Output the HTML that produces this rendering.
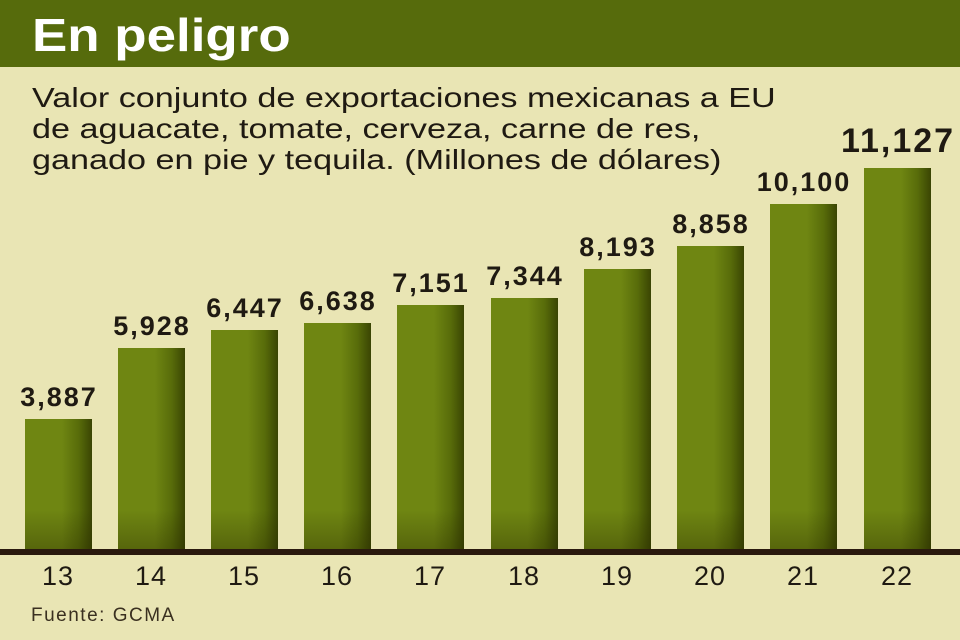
<!DOCTYPE html>
<html><head><meta charset="utf-8"><style>
body{margin:0;width:960px;height:640px;background:#e9e5b4;font-family:"Liberation Sans",sans-serif;position:relative;overflow:hidden}
.hd{position:absolute;left:0;top:0;width:960px;height:67px;background:#566b0c}
.t{position:absolute;left:32px;top:8px;font-size:46px;font-weight:bold;color:#fff;transform:scaleX(1.15);transform-origin:left}
.s{position:absolute;left:32px;top:82px;font-size:28px;line-height:31px;color:#1f1a12;transform:scaleX(1.22);transform-origin:left;white-space:nowrap}
.b{position:absolute;width:67px;bottom:90px;background:linear-gradient(to right,#6f8612 0%,#6f8612 55%,#586c0a 80%,#3a4503 100%)}
.b::after{content:"";position:absolute;left:0;right:0;bottom:0;height:40px;background:linear-gradient(to bottom,rgba(40,40,0,0),rgba(40,40,0,0.35))}
.v{position:absolute;width:140px;text-align:center;font-size:27px;font-weight:bold;color:#1f1a12;letter-spacing:2px}
.y{position:absolute;width:90px;text-align:center;top:561px;font-size:27px;color:#1f1a12;letter-spacing:1px}
.base{position:absolute;left:0;top:549px;width:960px;height:6px;background:#2a1a0e}
.f{position:absolute;left:31px;top:605px;font-size:19px;color:#3a3020;letter-spacing:1.5px}
</style></head><body>
<div class="hd"></div><div class="t">En peligro</div>
<div class="s">Valor conjunto de exportaciones mexicanas a EU<br>de aguacate, tomate, cerveza, carne de res,<br>ganado en pie y tequila. (Millones de dólares)</div>
<div class="b" style="left:25px;top:419px"></div><div class="v" style="left:-11px;top:382px">3,887</div><div class="y" style="left:13px">13</div>
<div class="b" style="left:118px;top:348px"></div><div class="v" style="left:82px;top:311px">5,928</div><div class="y" style="left:106px">14</div>
<div class="b" style="left:211px;top:330px"></div><div class="v" style="left:175px;top:293px">6,447</div><div class="y" style="left:199px">15</div>
<div class="b" style="left:304px;top:323px"></div><div class="v" style="left:268px;top:286px">6,638</div><div class="y" style="left:292px">16</div>
<div class="b" style="left:397px;top:305px"></div><div class="v" style="left:361px;top:268px">7,151</div><div class="y" style="left:385px">17</div>
<div class="b" style="left:491px;top:298px"></div><div class="v" style="left:455px;top:261px">7,344</div><div class="y" style="left:479px">18</div>
<div class="b" style="left:584px;top:269px"></div><div class="v" style="left:548px;top:232px">8,193</div><div class="y" style="left:572px">19</div>
<div class="b" style="left:677px;top:246px"></div><div class="v" style="left:641px;top:209px">8,858</div><div class="y" style="left:665px">20</div>
<div class="b" style="left:770px;top:204px"></div><div class="v" style="left:734px;top:167px">10,100</div><div class="y" style="left:758px">21</div>
<div class="b" style="left:864px;top:168px"></div><div class="v" style="left:828px;top:122px;font-size:34px">11,127</div><div class="y" style="left:852px">22</div>
<div class="base"></div>
<div class="f">Fuente: GCMA</div>
</body></html>
